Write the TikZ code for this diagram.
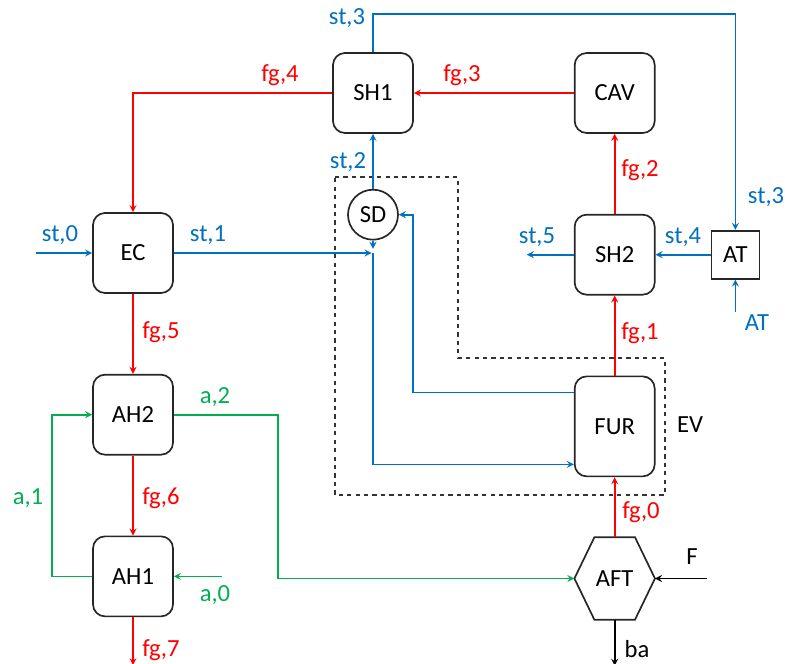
\documentclass[tikz,border=0pt]{standalone}
\usepackage{fontspec}
\setmainfont{Carlito}
\usetikzlibrary{arrows, positioning, calc}
\definecolor{stblue}{RGB}{0,112,192}
\definecolor{fgred}{RGB}{255,0,0}
\definecolor{agreen}{RGB}{0,176,80}

\begin{document}
\begin{tikzpicture}[
    font=\fontsize{17.5}{20}\selectfont,
    unit/.style={rectangle, rounded corners=0.3cm, minimum width=2cm, minimum height=2cm, text centered, draw=black!85, line width=1.2pt},
    drum/.style={circle, minimum size=1.25cm, inner sep=0pt, draw=black!85, line width=1.2pt},
    attemp/.style={rectangle, minimum size=1.2cm, inner sep=0pt, draw=black!85, line width=1.2pt},
    arrow/.style={line width=1.2pt,->,>=stealth},
    st/.style={arrow, draw=stblue},
    fg/.style={arrow, draw=fgred},
    air/.style={arrow, draw=agreen},
    stlabel/.style={text=stblue},
    fglabel/.style={text=fgred},
    alabel/.style={text=agreen}
]
\useasboundingbox (0,0) rectangle (19.625,-16.6);

\node (SH1) [unit] at (9.325,-2.325) {SH1};
\node (CAV) [unit, right=4cm of SH1] {CAV};
\node (SH2) [unit, below=2cm of CAV] {SH2};
\node (FUR) [unit, minimum height=2.5cm, below=2cm of SH2] {FUR};
\node (AFT) [rectangle, minimum width=2cm, minimum height=2.05cm, below=1.5cm of FUR] {AFT};
\node (AT) [attemp, right=1.375cm of SH2] {AT};
\node (SD) [drum, below=1.375cm of SH1] {SD};
\node (EC) [unit] at (3.325,-6.325) {EC};
\node (AH2) [unit, below=2cm of EC] {AH2};
\node (AH1) [unit, below=2cm of AH2] {AH1};

% hexagon of the air fan / furnace inlet
\draw [line width=1.2pt, draw=black!85] (AFT.west) -- ([xshift=0.5cm]AFT.north west) -- ([xshift=-0.5cm]AFT.north east)
    -- (AFT.east) -- ([xshift=-0.5cm]AFT.south east) -- ([xshift=0.5cm]AFT.south west) -- cycle;

% evaporator boundary
\draw [dashed, line width=0.8pt, draw=black!80] (8.375,-4.425) -- (11.45,-4.425) -- (11.45,-8.95) -- (16.625,-8.95)
    -- (16.625,-12.375) -- (8.375,-12.375) -- cycle;
\node (EV) at (17.25,-10.625) {EV};

\coordinate (jn) at (SD |- EC);
\coordinate (st0) at ([xshift=-1.4cm]EC.west);
\coordinate (st5) at ([xshift=-1.175cm]SH2.west);
\coordinate (atin) at ([yshift=-0.8cm]AT.south);
\coordinate (a0) at ([xshift=1.2cm]AH1.east);
\coordinate (fg7) at ([yshift=-1.2cm]AH1.south);
\coordinate (fin) at ([xshift=1.3cm]AFT.east);
\coordinate (ba) at ([yshift=-1.15cm]AFT.south);
\coordinate (rb) at ([xshift=1cm]SD.center);

% steam / water side
\draw [st] (st0) -- (EC);
\draw [st] (EC.east) -- ([xshift=-1pt]jn);
\draw [st] (SD.south) -- ([yshift=3pt]jn);
\draw [st] (jn) |- ([yshift=-0.95cm]FUR.west);
\draw [st] ([yshift=0.85cm]FUR.west) -| (rb) -- (SD.east);
\draw [st] (SD) -- (SH1);
\draw [st] (SH1.north) -- ++(0,0.95) -| (AT.north);
\draw [st] (atin) -- (AT);
\draw [st] (AT) -- (SH2);
\draw [st] (SH2.west) -- (st5);

% flue gas side
\draw [fg] (AFT) -- (FUR);
\draw [fg] (FUR) -- (SH2);
\draw [fg] (SH2) -- (CAV);
\draw [fg] (CAV) -- (SH1);
\draw [fg] (SH1.west) -| (EC.north);
\draw [fg] (EC) -- (AH2);
\draw [fg] (AH2) -- (AH1);
\draw [fg] (AH1) -- (fg7);

% air side
\draw [air] (a0) -- (AH1);
\draw [air] (AH1.west) -- ++(-1,0) |- (AH2.west);
\draw [air] (AH2.east) -- ++(2.6,0) |- (AFT.west);

% fuel and bottom ash
\draw [arrow] (fin) -- (AFT.east);
\draw [arrow] (AFT.south) -- (ba);

% stream labels
\node (l-st3a) [stlabel] at (8.675,-0.45) {st,3};
\node (l-st3b) [stlabel] at (19.15,-4.925) {st,3};
\node (l-st2) [stlabel] at (8.7,-4.05) {st,2};
\node (l-st0) [stlabel] at (1.5,-5.875) {st,0};
\node (l-st1) [stlabel] at (5.2,-5.875) {st,1};
\node (l-st5) [stlabel] at (13.425,-5.925) {st,5};
\node (l-st4) [stlabel] at (17.075,-5.925) {st,4};
\node (l-at) [stlabel] at (18.925,-8.075) {AT};
\node (l-fg4) [fglabel] at (7.0,-1.875) {fg,4};
\node (l-fg3) [fglabel] at (11.55,-1.875) {fg,3};
\node (l-fg2) [fglabel] at (16.0,-4.25) {fg,2};
\node (l-fg5) [fglabel] at (4.025,-8.3) {fg,5};
\node (l-fg1) [fglabel] at (16.0,-8.325) {fg,1};
\node (l-fg6) [fglabel] at (4.025,-12.45) {fg,6};
\node (l-fg0) [fglabel] at (16.025,-12.8) {fg,0};
\node (l-fg7) [fglabel] at (4.025,-16.25) {fg,7};
\node (l-a2) [alabel] at (5.375,-9.925) {a,2};
\node (l-a1) [alabel] at (0.7,-12.45) {a,1};
\node (l-a0) [alabel] at (5.375,-14.875) {a,0};
\node (l-f) at (17.3,-13.925) {F};
\node (l-ba) at (15.925,-16.22) {ba};

\end{tikzpicture}
\end{document}
